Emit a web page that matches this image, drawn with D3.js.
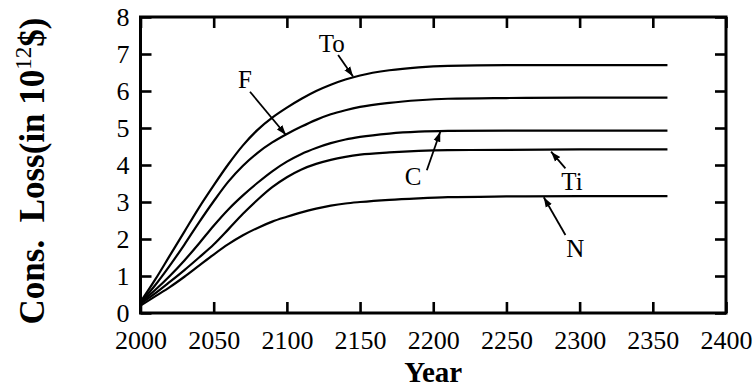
<!DOCTYPE html>
<html>
<head>
<meta charset="utf-8">
<script src="https://cdn.jsdelivr.net/npm/d3@7"></script>
<style>
  html, body { margin: 0; padding: 0; background: #fff; }
  svg { display: block; }
  svg text { font-family: "Liberation Serif", "Times New Roman", serif; fill: #000; }
</style>
</head>
<body>
<svg id="chart" width="756" height="392"></svg>
<script>
// Cumulative consumption loss per scenario, trillions of dollars, by year
const years = [2000, 2010, 2020, 2030, 2040, 2050, 2060, 2070, 2080, 2090, 2100,
               2110, 2120, 2130, 2140, 2150, 2170, 2190, 2210, 2250, 2300, 2360];
const lossTo = [0.30, 0.90, 1.55, 2.20, 2.85, 3.45, 4.02, 4.53, 4.95, 5.28, 5.55,
                5.79, 6.00, 6.17, 6.31, 6.42, 6.56, 6.64, 6.68, 6.70, 6.70, 6.70];
const lossF  = [0.28, 0.75, 1.28, 1.85, 2.45, 3.02, 3.55, 3.98, 4.33, 4.61, 4.84,
                5.04, 5.22, 5.37, 5.48, 5.57, 5.68, 5.75, 5.79, 5.81, 5.82, 5.82];
const lossC  = [0.27, 0.62, 1.00, 1.42, 1.88, 2.36, 2.80, 3.18, 3.52, 3.83, 4.09,
                4.30, 4.46, 4.59, 4.69, 4.76, 4.85, 4.90, 4.92, 4.93, 4.93, 4.93];
const lossTi = [0.25, 0.53, 0.84, 1.16, 1.50, 1.85, 2.26, 2.68, 3.06, 3.40, 3.67,
                3.88, 4.03, 4.14, 4.22, 4.28, 4.34, 4.38, 4.40, 4.41, 4.42, 4.42];
const lossN  = [0.20, 0.45, 0.70, 0.98, 1.28, 1.58, 1.86, 2.10, 2.30, 2.47, 2.60,
                2.72, 2.82, 2.90, 2.96, 3.00, 3.06, 3.10, 3.13, 3.15, 3.16, 3.16];

const seriesNames = ["To", "F", "C", "Ti", "N"];
const seriesValues = [lossTo, lossF, lossC, lossTi, lossN];

// Axis ticks
const xTicks = [2000, 2050, 2100, 2150, 2200, 2250, 2300, 2350, 2400];
const yTicks = [0, 1, 2, 3, 4, 5, 6, 7, 8];

// Curve labels: label centre, arrow tail and arrow tip, in data units
const labelNames = ["To", "F", "C", "Ti", "N"];
const labelAt  = [[2130.7, 7.29], [2071.4, 6.30], [2186.2, 3.68], [2294.8, 3.55], [2297.0, 1.75]];
const arrowFrom = [[2135.0, 6.97], [2074.8, 5.98], [2195.6, 3.86], [2290.3, 3.91], [2290.3, 2.11]];
const arrowTo   = [[2145.2, 6.39], [2099.4, 4.81], [2204.8, 4.90], [2280.5, 4.36], [2275.5, 3.13]];

const serif = "'Liberation Serif', 'Times New Roman', serif";
const svg = d3.select("#chart");
const plotL = 140.5, plotR = 726, plotT = 17, plotB = 313;

const x = d3.scaleLinear().domain([2000, 2400]).range([plotL, plotR]);
const y = d3.scaleLinear().domain([0, 8]).range([plotB, plotT]);

const tickLen = 11;

// Inward ticks on all four sides
const styleAxis = g => {
  g.attr("font-family", serif).attr("font-size", 26);
  g.select(".domain").remove();
  g.selectAll(".tick line").attr("stroke", "#000").attr("stroke-width", 2.6);
  g.selectAll(".tick text").attr("fill", "#000")
    .style("font-family", serif).style("font-size", "26px");
};

svg.append("g")
  .attr("transform", `translate(0,${plotB})`)
  .call(d3.axisBottom(x).tickValues(xTicks).tickFormat(d3.format("d"))
        .tickSize(-tickLen).tickPadding(18))
  .call(styleAxis);

svg.append("g")
  .attr("transform", `translate(0,${plotT})`)
  .call(d3.axisTop(x).tickValues(xTicks).tickFormat("").tickSize(-tickLen))
  .call(styleAxis);

svg.append("g")
  .attr("transform", `translate(${plotL},0)`)
  .call(d3.axisLeft(y).tickValues(yTicks).tickFormat(d3.format("d"))
        .tickSize(-tickLen).tickPadding(11))
  .call(styleAxis);

svg.append("g")
  .attr("transform", `translate(${plotR},0)`)
  .call(d3.axisRight(y).tickValues(yTicks).tickFormat("").tickSize(-tickLen))
  .call(styleAxis);

// Frame
svg.append("rect")
  .attr("x", plotL).attr("y", plotT)
  .attr("width", plotR - plotL).attr("height", plotB - plotT)
  .attr("fill", "none").attr("stroke", "#000").attr("stroke-width", 3);

// Curves
const line = d3.line()
  .x((d, i) => x(years[i]))
  .y(d => y(d))
  .curve(d3.curveMonotoneX);

svg.append("g").selectAll("path")
  .data(seriesValues)
  .join("path")
  .attr("class", (d, i) => "series-" + seriesNames[i])
  .attr("d", line)
  .attr("fill", "none")
  .attr("stroke", "#000")
  .attr("stroke-width", 2.2);

// Arrow marker
svg.append("defs").append("marker")
  .attr("id", "arrowhead")
  .attr("viewBox", "0 0 10 10")
  .attr("refX", 10).attr("refY", 5)
  .attr("markerWidth", 10).attr("markerHeight", 10)
  .attr("markerUnits", "userSpaceOnUse")
  .attr("orient", "auto")
  .append("path")
  .attr("d", "M0,1.5 L10,5 L0,8.5 Z")
  .attr("fill", "#000");

const ann = svg.append("g");
labelNames.forEach((name, i) => {
  ann.append("line")
    .attr("x1", x(arrowFrom[i][0])).attr("y1", y(arrowFrom[i][1]))
    .attr("x2", x(arrowTo[i][0])).attr("y2", y(arrowTo[i][1]))
    .attr("stroke", "#000").attr("stroke-width", 1.8)
    .attr("marker-end", "url(#arrowhead)");
  ann.append("text")
    .attr("x", x(labelAt[i][0])).attr("y", y(labelAt[i][1]))
    .attr("text-anchor", "middle")
    .attr("dominant-baseline", "central")
    .style("font-size", "25px")
    .text(name);
});

// Axis titles
svg.append("text")
  .attr("x", (plotL + plotR) / 2).attr("y", 382)
  .attr("text-anchor", "middle")
  .style("font-size", "29px").style("font-weight", "bold")
  .text("Year");

const yTitle = svg.append("text")
  .attr("transform", `translate(44,${(plotT + plotB) / 2 + 6}) rotate(-90)`)
  .attr("text-anchor", "middle")
  .style("font-size", "35px").style("font-weight", "bold");
yTitle.append("tspan").text("Cons.\u00A0 Loss(in 10");
yTitle.append("tspan").attr("dy", -13).style("font-size", "23px").style("font-weight", "normal").text("12");
yTitle.append("tspan").attr("dy", 13).text("$)");
</script>
</body>
</html>
